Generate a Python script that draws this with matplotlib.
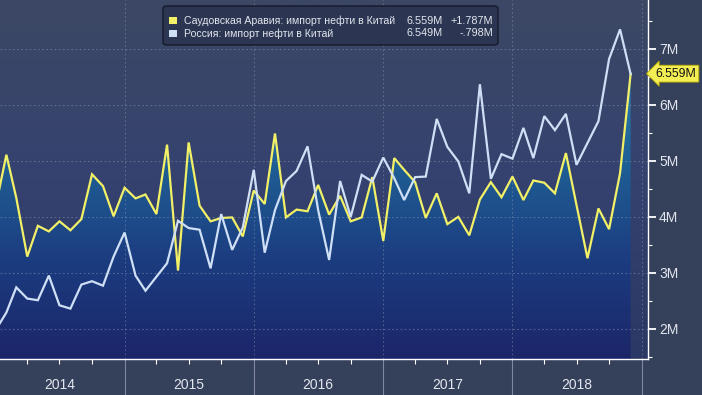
import numpy as np
import pandas as pd
import matplotlib
matplotlib.use("Agg")
import matplotlib.pyplot as plt
import matplotlib.dates as mdates
from matplotlib.colors import LinearSegmentedColormap
from matplotlib.patches import FancyBboxPatch, Rectangle

# ---------------- data ----------------
months = pd.date_range("2014-01-01", periods=60, freq="MS")
saudi = [4.16, 5.11, 4.34, 3.29, 3.84, 3.74, 3.92, 3.76, 3.96, 4.76, 4.55, 4.01,
         4.52, 4.33, 4.40, 4.05, 5.29, 3.04, 5.33, 4.20, 3.92, 3.98, 3.99, 3.65,
         4.47, 4.23, 5.49, 3.99, 4.13, 4.10, 4.57, 4.04, 4.375, 3.92, 3.99, 4.71,
         3.57, 5.05, 4.84, 4.62, 3.98, 4.42, 3.87, 4.00, 3.67, 4.31, 4.62, 4.35,
         4.72, 4.30, 4.65, 4.61, 4.42, 5.14, 4.21, 3.26, 4.15, 3.78, 4.78, 6.559]
russia = [1.97, 2.29, 2.74, 2.54, 2.51, 2.95, 2.42, 2.36, 2.79, 2.85, 2.77, 3.29,
          3.72, 2.95, 2.68, 2.93, 3.17, 3.93, 3.80, 3.77, 3.08, 4.05, 3.41, 3.81,
          4.84, 3.36, 4.12, 4.64, 4.82, 5.26, 4.12, 3.23, 4.64, 4.00, 4.75, 4.63,
          5.06, 4.69, 4.30, 4.71, 4.72, 5.75, 5.25, 4.99, 4.42, 6.37, 4.68, 5.12,
          5.04, 5.59, 5.05, 5.80, 5.55, 5.84, 4.93, 5.32, 5.71, 6.82, 7.35, 6.549]
series_labels = ["Саудовская Аравия: импорт нефти в Китай", "Россия: импорт нефти в Китай"]
last_values = ["6.559M", "6.549M"]
changes = ["+1.787M", "-.798M"]
y_ticks = [2, 3, 4, 5, 6, 7]
y_tick_labels = ["2M", "3M", "4M", "5M", "6M", "7M"]
years = ["2014", "2015", "2016", "2017", "2018"]
tag_value = 6.559
tag_text = "6.559M"

# ---------------- style ----------------
FONT = ["Liberation Sans", "DejaVu Sans"]
plt.rcParams["font.family"] = FONT
YELLOW = "#f2f066"
LIGHT = "#cfe0f6"
TXT = "#e2e6ee"
FIGBG = "#35405b"

fig = plt.figure(figsize=(7.02, 3.95), dpi=100, facecolor=FIGBG)
ax = fig.add_axes([0.0, 36 / 395, 648 / 702, 1 - 36 / 395])

xmin = pd.Timestamp("2014-01-14")
xmax = pd.Timestamp("2019-01-19")
ymin, ymax = 1.46, 7.875
xn0, xn1 = mdates.date2num(xmin), mdates.date2num(xmax)

# background gradient of plot area
bg_cmap = LinearSegmentedColormap.from_list("bg", ["#2b3866", "#354270", "#3c4864"])
grad = np.linspace(0, 1, 256).reshape(-1, 1)
ax.imshow(grad, extent=[xn0, xn1, ymin, ymax], origin="lower", aspect="auto",
          cmap=bg_cmap, zorder=0)

# gradient fill under Saudi line
poly = ax.fill_between(months, saudi, ymin, facecolor="none", edgecolor="none")
fill_cmap = LinearSegmentedColormap.from_list("fill", ["#1b2669", "#1c3c80", "#1f5f95", "#2a82b3"])
im = ax.imshow(grad, extent=[xn0, xn1, ymin, 6.7], origin="lower", aspect="auto",
               cmap=fill_cmap, zorder=1)
im.set_clip_path(poly.get_paths()[0], transform=ax.transData)

# grid
for v in y_ticks:
    ax.axhline(v, color="#9aa3b8", lw=0.6, ls=(0, (2, 3)), alpha=0.55, zorder=1.5)
for yr in ["2015", "2016", "2017", "2018", "2019"]:
    ax.axvline(pd.Timestamp(yr + "-01-01"), color="#9aa3b8", lw=0.6, ls=(0, (2, 3)),
               alpha=0.5, zorder=1.5)

# lines
ax.plot(months, saudi, color=YELLOW, lw=1.6, zorder=3, solid_joinstyle="miter")
ax.plot(months, russia, color=LIGHT, lw=1.6, zorder=4, solid_joinstyle="miter")

ax.set_xlim(xmin, xmax)
ax.set_ylim(ymin, ymax)
ax.set_facecolor("none")

# spines
for s in ["top", "left"]:
    ax.spines[s].set_visible(False)
for s in ["right", "bottom"]:
    ax.spines[s].set_color("white")
    ax.spines[s].set_linewidth(1.0)

# y axis on the right
ax.yaxis.tick_right()
ax.set_yticks(y_ticks)
ax.set_yticklabels(y_tick_labels)
ax.set_yticks(np.arange(1.5, 8.0, 1.0), minor=True)
ax.tick_params(axis="y", which="major", length=6, width=1.3, color="white",
               labelcolor=TXT, labelsize=10, pad=2)
ax.tick_params(axis="y", which="minor", length=3, width=0.8, color="white")

# x axis: year dividers and quarter ticks
ax.xaxis.set_major_locator(mdates.YearLocator())
ax.xaxis.set_minor_locator(mdates.MonthLocator(bymonth=[4, 7, 10]))
ax.xaxis.set_major_formatter(plt.NullFormatter())
ax.tick_params(axis="x", which="major", length=27, width=0.8, color="#7f889e")
ax.tick_params(axis="x", which="minor", length=3.5, width=0.8, color="white")

for i, yr in enumerate(years):
    ax.text(pd.Timestamp(f"{yr}-07-01"), -0.072, yr, transform=ax.get_xaxis_transform(),
            ha="center", va="center", color=TXT, fontsize=10, clip_on=False)

# value tag
ax.annotate(tag_text, xy=(1.0, tag_value), xycoords=("axes fraction", "data"),
            xytext=(5.5, 0), textcoords="offset points", ha="left", va="center",
            fontsize=8.8, color="#111111", annotation_clip=False,
            bbox=dict(boxstyle="larrow,pad=0.2", fc="#f4ee55", ec="#b5a800", lw=0.6))

# legend box
fig.patches.append(FancyBboxPatch((163 / 702, 1 - 45 / 395), 335 / 702, 39 / 395,
                                  boxstyle="round,pad=0,rounding_size=0.006",
                                  transform=fig.transFigure, fc="#2c3652", ec="#141a2a",
                                  lw=1.0, zorder=5))
sq_colors = [YELLOW, LIGHT]
row_y = [1 - 20.5 / 395, 1 - 33.5 / 395]
for k in range(2):
    fig.patches.append(Rectangle((169 / 702, row_y[k] - 3.5 / 395), 7.5 / 702, 7.5 / 395,
                                 transform=fig.transFigure, fc=sq_colors[k], ec="none",
                                 zorder=6))
    fig.text(184 / 702, row_y[k], series_labels[k], color=TXT, fontsize=7.6,
             ha="left", va="center", zorder=7)
    fig.text(443 / 702, row_y[k], last_values[k], color=TXT, fontsize=7.8,
             ha="right", va="center", zorder=7)
    fig.text(493 / 702, row_y[k], changes[k], color=TXT, fontsize=7.8,
             ha="right", va="center", zorder=7)

fig.savefig("out.png", dpi=100, facecolor=FIGBG)
